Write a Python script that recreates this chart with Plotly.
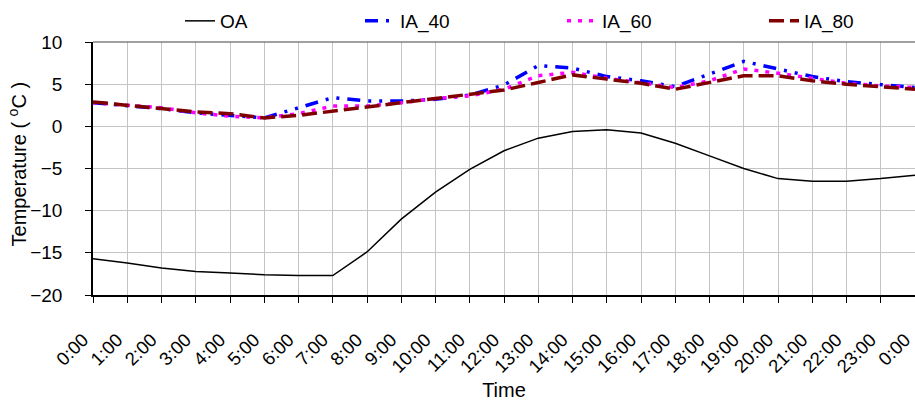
import plotly.graph_objects as go

hours = list(range(25))
tick_labels = [f"{h}:00" for h in range(24)] + ["0:00"]

oa = [-15.7, -16.2, -16.8, -17.2, -17.4, -17.6, -17.7, -17.7, -14.9, -11.0, -7.8, -5.1,
      -2.9, -1.4, -0.6, -0.4, -0.8, -2.0, -3.5, -5.0, -6.2, -6.5, -6.5, -6.2, -5.8]
ia_40 = [2.8, 2.5, 2.1, 1.6, 1.3, 1.0, 2.2, 3.4, 3.0, 3.0, 3.2, 3.7,
         4.9, 7.2, 6.9, 5.9, 5.4, 4.7, 6.2, 7.7, 6.8, 5.9, 5.3, 5.0, 4.6]
ia_60 = [2.8, 2.5, 2.2, 1.6, 1.2, 1.0, 1.5, 2.4, 2.4, 2.8, 3.3, 3.6,
         4.4, 6.0, 6.4, 5.7, 5.2, 4.6, 5.4, 6.8, 6.3, 5.7, 5.1, 4.8, 4.6]
ia_80 = [2.9, 2.5, 2.1, 1.7, 1.5, 1.0, 1.3, 1.8, 2.3, 2.7, 3.2, 3.8,
         4.3, 5.2, 6.1, 5.6, 5.1, 4.4, 5.2, 6.0, 6.0, 5.4, 5.0, 4.7, 4.4]

fig = go.Figure()
fig.add_trace(go.Scatter(x=hours, y=oa, mode="lines", name="OA", legend="legend",
                         line=dict(color="black", width=1.5)))
fig.add_trace(go.Scatter(x=hours, y=ia_40, mode="lines", name="IA_40", legend="legend2",
                         line=dict(color="#0000ff", width=3.5, dash="13px,8px,3px,8px,3px,8px")))
fig.add_trace(go.Scatter(x=hours, y=ia_60, mode="lines", name="IA_60", legend="legend3",
                         line=dict(color="#ff00ff", width=3.5, dash="4px,7px")))
fig.add_trace(go.Scatter(x=hours, y=ia_80, mode="lines", name="IA_80", legend="legend4",
                         line=dict(color="#800000", width=3.5, dash="15px,6px")))

font = "Liberation Sans, Arial, sans-serif"


def leg(xpos):
    return dict(orientation="h", xref="container", yref="container",
                x=xpos, xanchor="left", y=1 - 21 / 401, yanchor="middle",
                font=dict(size=19), bgcolor="rgba(0,0,0,0)", itemclick=False,
                itemdoubleclick=False)


fig.update_layout(
    width=915, height=401,
    margin=dict(l=93, r=0, t=42, b=106),
    paper_bgcolor="white", plot_bgcolor="white",
    font=dict(family=font, size=19, color="black"),
    showlegend=True,
    legend=leg(180 / 915),
    legend2=leg(360 / 915),
    legend3=leg(562 / 915),
    legend4=leg(764 / 915),
    xaxis=dict(range=[0, 24], tickmode="array", tickvals=hours, ticktext=tick_labels,
               tickangle=-45, ticks="outside", ticklen=6, tickcolor="black",
               showline=True, linecolor="black", linewidth=1.5, automargin=False,
               showgrid=True, gridcolor="#c4c4c4", gridwidth=1, zeroline=False,
               tickfont=dict(size=18.5), ticklabelstandoff=19, ticklabelshift=-10,
               ticklabeloverflow="allow",
               title=dict(text="Time", font=dict(size=20), standoff=7)),
    yaxis=dict(range=[-20, 10], tickmode="linear", tick0=-20, dtick=5,
               ticks="outside", ticklen=6, tickcolor="black", automargin=False,
               showline=True, linecolor="black", linewidth=1.5,
               showgrid=True, gridcolor="#c4c4c4", gridwidth=1, zeroline=False,
               tickfont=dict(size=19), ticklabelstandoff=19),
    annotations=[dict(text="Temperature ( <sup>o</sup>C )", textangle=-90,
                      xref="paper", yref="paper", x=(17 - 93) / 822, y=0.516,
                      xanchor="center", yanchor="middle", showarrow=False,
                      font=dict(size=20))],
    shapes=[dict(type="line", xref="paper", yref="paper", x0=0, x1=1, y0=1, y1=1,
                 line=dict(color="#808080", width=1.5))],
)

fig.write_html("out.html", post_script="document.body.style.margin='0';",
               config={"displayModeBar": False})
